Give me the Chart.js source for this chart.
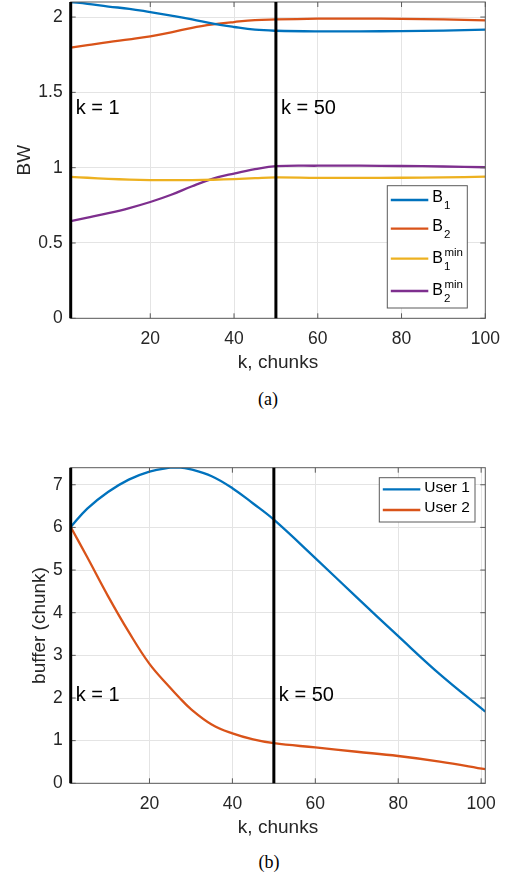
<!DOCTYPE html>
<html lang="en">
<head>
<meta charset="UTF-8">
<title>BW and buffer vs chunks</title>
<style>
    body {
        margin: 0;
        background: #fff;
        width: 514px;
        height: 881px;
        position: relative;
        overflow: hidden;
    }
    canvas {
        position: absolute;
        left: 0;
    }
    #chartA { top: 0; }
    #chartB { top: 440px; }
    .cap {
        position: absolute;
        width: 60px;
        text-align: center;
        font-family: 'Liberation Serif', 'Times New Roman', serif;
        font-size: 18px;
        color: #000;
    }
</style>
</head>
<body>
<canvas id="chartA" width="514" height="380"></canvas>
<div class="cap" style="left:238px; top:389px;">(a)</div>
<canvas id="chartB" width="514" height="405"></canvas>
<div class="cap" style="left:239px; top:852px;">(b)</div>

<script src="https://cdn.jsdelivr.net/npm/chart.js"></script>
<script>
// ---- data, chart (a) ----
const kA = [1, 5, 10, 15, 20, 25, 30, 35, 40, 45, 50, 60, 70, 80, 90, 100];
const b1 = [2.100, 2.088, 2.070, 2.055, 2.033, 2.010, 1.985, 1.956, 1.934, 1.916, 1.909, 1.905, 1.905, 1.907, 1.910, 1.916];
const b2 = [1.797, 1.813, 1.834, 1.852, 1.872, 1.898, 1.929, 1.951, 1.967, 1.980, 1.984, 1.989, 1.990, 1.988, 1.985, 1.978];
const b1min = [0.939, 0.933, 0.926, 0.921, 0.918, 0.917, 0.918, 0.920, 0.924, 0.930, 0.935, 0.932, 0.932, 0.933, 0.935, 0.940];
const b2min = [0.645, 0.668, 0.698, 0.732, 0.772, 0.820, 0.877, 0.927, 0.961, 0.990, 1.010, 1.013, 1.013, 1.011, 1.008, 1.003];
const legendBaseA = ['B', 'B', 'B', 'B'];
const legendSubA = ['1', '2', '1', '2'];
const legendSupA = ['', '', 'min', 'min'];
const xTicksA = [20, 40, 60, 80, 100];
const yTicksA = [0, 0.5, 1, 1.5, 2];

// ---- data, chart (b) ----
const kB = [1, 5, 10, 15, 20, 25, 27, 30, 35, 40, 45, 50, 60, 70, 80, 90, 101];
const user1 = [6.01, 6.44, 6.83, 7.12, 7.31, 7.40, 7.41, 7.36, 7.20, 6.92, 6.56, 6.18, 5.28, 4.36, 3.45, 2.56, 1.68];
const user2 = [6.01, 5.30, 4.39, 3.55, 2.80, 2.24, 2.03, 1.74, 1.38, 1.17, 1.03, 0.94, 0.84, 0.74, 0.64, 0.51, 0.33];
const legendBaseB = ['User 1', 'User 2'];
const xTicksB = [20, 40, 60, 80, 100];
const yTicksB = [0, 1, 2, 3, 4, 5, 6, 7];

// vertical markers
const markerK = [1, 50];
const markerLabels = ['k = 1', 'k = 50'];

const colors = ['#0072BD', '#D95319', '#EDB120', '#7E2F8E'];
const FONT = "'Liberation Sans', Arial, sans-serif";
Chart.defaults.font.family = FONT;
Chart.defaults.color = '#262626';

function pts(xs, ys) {
    return xs.map((x, i) => ({ x: x, y: ys[i] }));
}

// box around plot + inward tick marks (matlab style)
const frame = {
    id: 'frame',
    afterDatasetsDraw(chart) {
        const { ctx, chartArea: a, scales } = chart;
        ctx.save();
        ctx.strokeStyle = '#5a5a5a';
        ctx.lineWidth = 1;
        ctx.strokeRect(a.left, a.top, a.right - a.left, a.bottom - a.top);
        ctx.beginPath();
        scales.x.ticks.forEach(t => {
            const px = scales.x.getPixelForValue(t.value);
            ctx.moveTo(px, a.bottom); ctx.lineTo(px, a.bottom - 5);
            ctx.moveTo(px, a.top); ctx.lineTo(px, a.top + 5);
        });
        scales.y.ticks.forEach(t => {
            const py = scales.y.getPixelForValue(t.value);
            ctx.moveTo(a.left, py); ctx.lineTo(a.left + 5, py);
            ctx.moveTo(a.right, py); ctx.lineTo(a.right - 5, py);
        });
        ctx.stroke();
        ctx.restore();
    }
};

const markers = {
    id: 'markers',
    afterDatasetsDraw(chart, args, opts) {
        const { ctx, chartArea: a, scales: { x, y } } = chart;
        ctx.save();
        ctx.strokeStyle = '#000';
        ctx.lineWidth = 3;
        ctx.fillStyle = '#000';
        ctx.font = '20px ' + FONT;
        ctx.textBaseline = 'middle';
        markerK.forEach((k, i) => {
            const px = x.getPixelForValue(k);
            ctx.beginPath();
            ctx.moveTo(px, a.top);
            ctx.lineTo(px, a.bottom);
            ctx.stroke();
            ctx.fillText(markerLabels[i], px + 5, y.getPixelForValue(opts.labelY));
        });
        ctx.restore();
    }
};

const boxLegend = {
    id: 'boxLegend',
    afterDraw(chart, args, opts) {
        const ctx = chart.ctx;
        ctx.save();
        ctx.fillStyle = '#fff';
        ctx.fillRect(opts.x, opts.y, opts.w, opts.h);
        ctx.strokeStyle = '#5a5a5a';
        ctx.lineWidth = 1;
        ctx.strokeRect(opts.x, opts.y, opts.w, opts.h);
        ctx.textBaseline = 'middle';
        opts.base.forEach((txt, i) => {
            const cy = opts.y + opts.rows[i];
            ctx.strokeStyle = colors[i];
            ctx.lineWidth = 2.3;
            ctx.beginPath();
            ctx.moveTo(opts.x + 3.5, cy);
            ctx.lineTo(opts.x + 41, cy);
            ctx.stroke();
            ctx.fillStyle = '#000';
            ctx.font = opts.size + 'px ' + FONT;
            const tx = opts.x + 45;
            const sub = opts.sub ? opts.sub[i] : '';
            const sup = opts.sup ? opts.sup[i] : '';
            const by = sup ? cy : cy - 2;
            ctx.fillText(txt, tx, by);
            const w = ctx.measureText(txt).width;
            ctx.font = '11.5px ' + FONT;
            if (sub) ctx.fillText(sub, tx + w + 1, by + 8);
            if (sup) ctx.fillText(sup, tx + w + 1.5, by - 6);
        });
        ctx.restore();
    }
};

function makeChart(id, datasets, xMin, xMax, yMax, xTicks, yTicks, yTitle, yTitlePad, padTop, legendOpts, labelY) {
    return new Chart(document.getElementById(id), {
        type: 'line',
        data: { datasets: datasets },
        options: {
            responsive: false,
            animation: false,
            layout: { padding: { left: 0, right: 28.7, top: padTop, bottom: 0 } },
            elements: { point: { radius: 0 } },
            plugins: {
                legend: { display: false },
                tooltip: { enabled: false },
                markers: { labelY: labelY },
                boxLegend: legendOpts
            },
            scales: {
                x: {
                    type: 'linear',
                    min: xMin,
                    max: xMax,
                    afterBuildTicks: s => { s.ticks = xTicks.map(v => ({ value: v })); },
                    afterFit: s => { s.height = 61.7; s.paddingLeft = 0; s.paddingRight = 0; },
                    grid: { color: '#e4e4e4', drawTicks: false },
                    border: { display: false },
                    ticks: { padding: 10, font: { size: 17.5 }, color: '#262626', callback: v => String(v) },
                    title: { display: true, text: 'k, chunks', font: { size: 19 }, color: '#262626', padding: { top: 0, bottom: 6 } }
                },
                y: {
                    min: 0,
                    max: yMax,
                    afterBuildTicks: s => { s.ticks = yTicks.map(v => ({ value: v })); },
                    afterFit: s => { s.width = 70.7; s.paddingTop = 0; s.paddingBottom = 0; },
                    grid: { color: '#e4e4e4', drawTicks: false },
                    border: { display: false },
                    ticks: { padding: 8, font: { size: 17.5 }, color: '#262626', callback: v => String(v) },
                    title: { display: true, text: yTitle, font: { size: 19 }, color: '#262626', padding: { top: yTitlePad, bottom: 0 } }
                }
            }
        },
        plugins: [frame, markers, boxLegend]
    });
}

function ds(label, data, color) {
    return {
        label: label,
        data: data,
        borderColor: color,
        backgroundColor: color,
        borderWidth: 2.3,
        tension: 0.4,
        fill: false
    };
}

makeChart('chartA', [
    ds('B1', pts(kA, b1), colors[0]),
    ds('B2', pts(kA, b2), colors[1]),
    ds('B1 min', pts(kA, b1min), colors[2]),
    ds('B2 min', pts(kA, b2min), colors[3])
], 1, 100, 2.1, xTicksA, yTicksA, 'BW', 13.6, 2, {
    x: 387.3, y: 185.7, w: 80, h: 122.3, size: 16,
    rows: [14.3, 43, 73, 105.3],
    base: legendBaseA, sub: legendSubA, sup: legendSupA
}, 1.39);

makeChart('chartB', [
    ds('User 1', pts(kB, user1), colors[0]),
    ds('User 2', pts(kB, user2), colors[1])
], 1, 101, 7.4, xTicksB, yTicksB, 'buffer (chunk)', 28.6, 27.7, {
    x: 379.3, y: 37.7, w: 95.7, h: 44.3, size: 15.5,
    rows: [11.6, 32.3],
    base: legendBaseB
}, 2.05);
</script>
</body>
</html>
